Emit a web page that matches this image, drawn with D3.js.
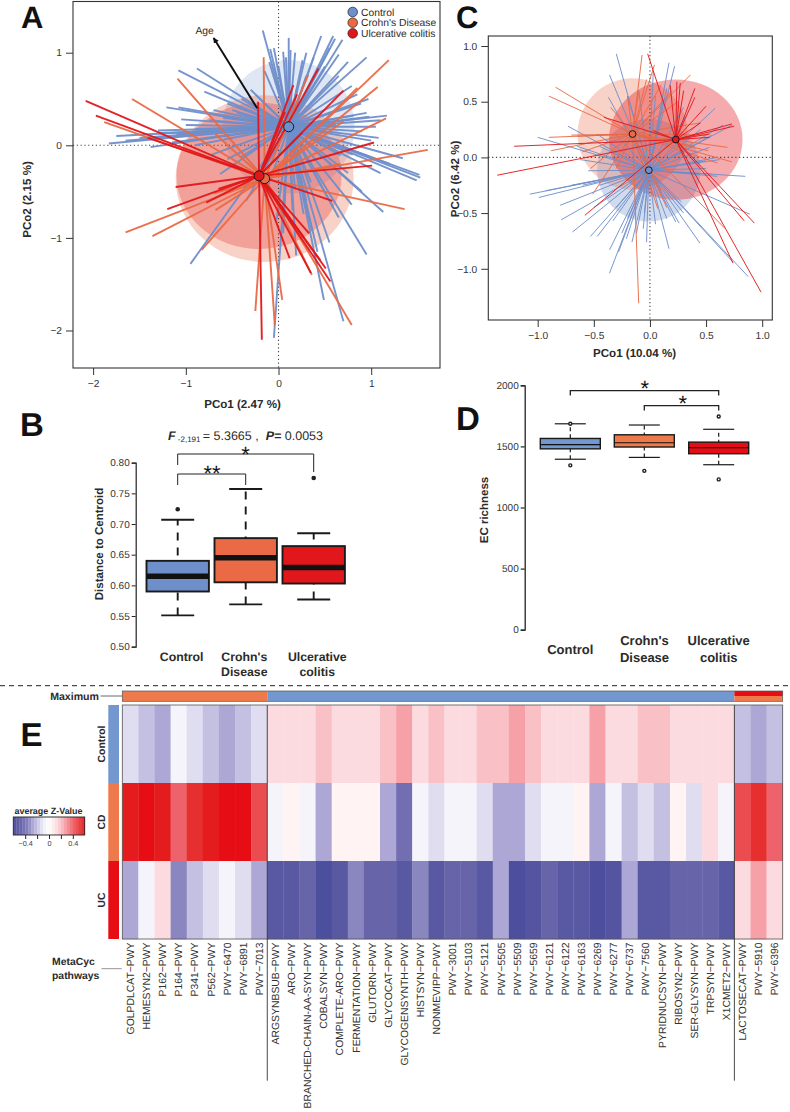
<!DOCTYPE html>
<html><head><meta charset="utf-8">
<script src="https://cdnjs.cloudflare.com/ajax/libs/d3/7.8.5/d3.min.js"></script>
<style>html,body{margin:0;padding:0;background:#fff}svg{display:block;text-rendering:geometricPrecision}text{font-family:"Liberation Sans",Arial,sans-serif;fill:#2b2b2b}</style>
</head><body><svg id="c" width="790" height="1112"></svg>
<script>
const colBlue="#6f8fcb", colOrange="#ea6a45", colRed="#e2171b";
const sideCols=["#7397cf","#ee7a4c","#e60e14"];
// Panel A (PCo1, PCo2)
const aCentroids=[[0.11,0.20],[-0.15,-0.36],[-0.21,-0.33]];
const aRadii=[[0.71,0.72],[0.96,0.90],[0.89,0.79]];
const aControl=[[-0.17,1.24],[-0.09,1.04],[-0.05,1.05],[0.05,1.01],[0.11,1.16],[0.13,1.03],[0.26,0.92],[0.46,1.18],[0.59,1.18],[0.61,1.15],[0.69,1.14],[0.95,0.95],[0.41,0.70],[0.79,0.64],[0.97,0.50],[0.89,0.45],[1.17,0.32],[1.05,0.20],[0.81,0.32],[-1.08,0.81],[-0.88,0.83],[-0.80,0.58],[-1.21,0.41],[-1.08,0.41],[-1.05,0.28],[-1.75,0.10],[-1.83,0.02],[-1.38,-0.02],[-1.65,0.05],[1.08,0.08],[1.34,-0.14],[1.52,-0.32],[1.53,-0.35],[1.49,-0.38],[1.13,-0.72],[0.95,-1.18],[0.79,-0.64],[0.49,-1.67],[0.70,-1.90],[-0.05,-2.08],[0.19,-1.19],[-0.95,-1.28],[-0.63,-0.31],[0.59,-0.67],[0.36,-0.92],[0.27,-0.74],[0.05,-0.95],[-0.41,-0.13],[0.67,-0.11],[-0.36,0.18],[-0.50,0.38],[0.30,0.75],[0.50,0.85],[0.20,0.62],[0.35,-0.40],[-0.25,0.55],[0.62,0.22],[0.98,0.31],[-1.30,0.16],[-1.10,0.12],[0.75,-0.30],[0.18,-0.48],[-1.0,0.22],[-0.9,0.18],[-0.75,0.27],[-0.6,0.3],[-0.45,0.35],[-0.7,0.38],[-0.55,0.45],[-0.4,0.5],[-0.3,0.6],[-0.15,0.8],[-0.1,0.9],[0.0,0.85],[0.08,0.95],[0.18,1.0],[0.3,1.0],[0.38,0.95],[0.55,1.05],[0.65,0.98],[0.75,0.9],[0.65,0.75],[0.85,0.55],[0.95,0.35],[1.1,0.27],[0.9,0.15],[1.0,0.05],[0.8,-0.1],[1.2,-0.2],[1.1,-0.3],[0.9,-0.5],[0.65,-0.78],[0.55,-1.05],[0.42,-1.15],[0.3,-0.6],[0.15,-0.7],[-0.02,-0.8],[-0.15,-0.55],[-0.35,-0.6],[-0.55,-0.15],[-0.9,0.0],[-1.15,0.03],[-1.3,0.13],[-1.5,0.08],[-0.72,-0.1]];
const aCD=[[-1.09,0.72],[-1.58,0.50],[-1.88,0.25],[-1.65,-0.94],[-1.36,-0.98],[-0.68,-0.70],[-0.83,-1.13],[-0.25,-1.79],[-0.04,-1.94],[0.04,-1.67],[0.36,-1.40],[0.79,-1.94],[1.36,-0.69],[1.61,-0.05],[1.16,0.29],[1.07,0.63],[1.19,0.92],[0.32,0.76],[-0.16,0.95],[0.85,0.62],[0.67,-0.20],[-0.68,0.12],[0.70,0.26],[-0.70,-0.52]];
const aUC=[[-2.08,0.48],[-1.97,0.32],[-1.41,0.08],[-1.11,-0.45],[-0.65,-0.47],[-1.20,-0.69],[-0.18,-2.10],[0.12,-1.22],[0.35,-1.38],[0.51,-1.33],[0.56,-1.47],[0.45,-1.24],[0.58,-0.60],[1.01,-0.22],[1.03,0.03],[0.70,0.59],[0.43,0.83],[0.16,0.65],[-0.22,0.47],[0.27,-0.99],[0.07,0.36],[0.26,0.14],[-0.78,-0.62],[0.33,-0.95],[0.20,0.55]];
const aArrow=[[-0.23,0.40],[-0.70,1.16]];
const aXTicks=[-2,-1,0,1], aYTicks=[-2,-1,0,1];
// Panel C (PCo1, PCo2)
const cCentroids=[[-0.01,-0.115],[-0.155,0.21],[0.23,0.16]];
const cRadii=[[0.46,0.46],[0.49,0.50],[0.595,0.54]];
const cControl=[[-0.30,0.93],[-0.36,0.74],[-0.37,0.54],[-0.73,0.28],[-1.00,0.18],[0.17,0.85],[0.22,0.82],[0.03,0.77],[0.58,0.44],[0.73,0.29],[0.65,0.29],[0.53,0.09],[0.85,-0.17],[0.89,-0.51],[0.875,-1.07],[0.74,-0.94],[0.445,-0.77],[0.26,-0.59],[0.17,-0.82],[-0.03,-0.76],[-0.06,-0.64],[-0.16,-0.76],[-0.36,-1.04],[-0.36,-0.83],[-0.28,-0.85],[-0.53,-0.71],[-0.47,-0.71],[-0.69,-0.67],[-0.79,-0.56],[-0.80,-0.43],[-1.07,-0.33],[-0.99,-0.36],[-0.33,-0.57],[-0.25,-0.68],[-0.12,-0.68],[-0.62,-0.02],[0.50,-0.03],[0.60,0.00],[-0.93,-0.30],[0.23,-0.58],[-0.21,-0.73],[0.12,0.52],[0.33,0.38],[-0.47,0.21],[0.42,-0.15],[0.55,-0.15],[0.28,-0.40],[-0.45,-0.25],[-0.2,0.55],[-0.1,0.6],[0.05,0.55],[0.15,0.62],[0.3,0.45],[0.45,0.25],[0.55,0.2],[0.62,-0.02],[0.5,-0.1],[0.6,-0.17],[0.3,-0.5],[0.15,-0.55],[0.05,-0.6],[-0.05,-0.5],[-0.2,-0.55],[-0.3,-0.45],[-0.5,-0.45],[-0.6,-0.25],[-0.7,-0.25],[-0.55,-0.12],[-0.45,0.1],[-0.3,0.2],[-0.65,0.1]];
const cCD=[[-0.07,0.92],[0.04,0.83],[-0.84,0.63],[-0.90,0.55],[-0.90,0.18],[-0.88,0.06],[-0.53,-0.10],[-0.51,-0.33],[-0.10,-1.31],[0.07,-0.46],[0.67,-0.64],[0.73,-0.04],[0.69,0.09],[0.36,0.74],[0.45,0.31],[0.52,0.06],[-0.03,0.70],[-0.70,0.20],[0.15,-0.45],[0.25,0.50],[-0.65,0.19],[-0.6,0.05],[-0.2,0.55],[-0.1,0.6],[0.1,0.65],[0.2,0.6],[0.5,0.2],[0.4,0.1],[-0.3,-0.1],[-0.35,0.45],[0.6,-0.05],[0.1,-0.3]];
const cUC=[[-0.02,0.93],[0.03,0.24],[-1.36,-0.16],[-1.21,0.10],[-0.41,0.36],[-0.58,-0.52],[0.99,-1.21],[0.74,-0.95],[0.93,-0.59],[0.84,-0.57],[0.73,0.30],[0.75,0.28],[0.53,0.18],[0.50,0.46],[0.40,0.62],[0.27,0.67],[0.30,0.60],[0.24,0.68],[0.18,0.65],[0.53,0.21],[0.45,0.31],[0.40,0.54]];
const cTicks=[-1,-0.5,0,0.5,1];
// Panel B boxplots: whisker low, q1, median, q3, whisker high, outliers
const groups=["Control","Crohn's Disease","Ulcerative colitis"];
const bStats=[[0.551,0.590,0.615,0.640,0.707],[0.569,0.605,0.645,0.677,0.757],[0.577,0.603,0.629,0.664,0.685]];
const bOutliers=[[0.724],[],[0.775]];
const bTicks=[0.5,0.55,0.6,0.65,0.7,0.75,0.8];
// Panel D boxplots
const dStats=[[1395,1480,1515,1565,1685],[1410,1495,1530,1595,1675],[1350,1440,1490,1535,1640]];
const dOutliers=[[1685,1345],[1300],[1745,1230]];
const dTicks=[0,500,1000,1500,2000];
// Panel E heatmap
const pathways=["GOLPDLCAT−PWY","HEMESYN2−PWY","P162−PWY","P164−PWY","P341−PWY","P562−PWY","PWY−6470","PWY−6891","PWY−7013","ARGSYNBSUB−PWY","ARO−PWY","BRANCHED-CHAIN-AA-SYN−PWY","COBALSYN−PWY","COMPLETE-ARO−PWY","FERMENTATION−PWY","GLUTORN−PWY","GLYCOCAT−PWY","GLYCOGENSYNTH−PWY","HISTSYN−PWY","NONMEVIPP−PWY","PWY−3001","PWY−5103","PWY−5121","PWY−5505","PWY−5509","PWY−5659","PWY−6121","PWY−6122","PWY−6163","PWY−6269","PWY−6277","PWY−6737","PWY−7560","PYRIDNUCSYN−PWY","RIBOSYN2−PWY","SER-GLYSYN−PWY","TRPSYN−PWY","X1CMET2−PWY","LACTOSECAT−PWY","PWY−5910","PWY−6396"];
const heatRows=["Control","CD","UC"];
const zControl=[-0.1,-0.15,-0.2,-0.05,-0.1,-0.15,-0.2,-0.15,-0.1,0.1,0.1,0.1,0.15,0.1,0.1,0.1,0.15,0.2,0.1,0.15,0.1,0.1,0.15,0.15,0.2,0.15,0.1,0.1,0.1,0.2,0.1,0.1,0.15,0.15,0.1,0.1,0.1,0.1,-0.15,-0.2,-0.15];
const zCD=[0.47,0.5,0.47,0.3,0.42,0.47,0.5,0.5,0.35,-0.05,0.03,-0.05,-0.2,0.03,0.03,0.03,-0.2,-0.32,-0.05,-0.1,-0.05,-0.05,-0.1,-0.2,-0.2,-0.1,-0.05,-0.05,0.03,-0.2,-0.05,-0.15,-0.1,-0.15,0.03,-0.1,0.1,-0.05,0.35,0.42,0.3];
const zUC=[-0.2,-0.05,0.1,-0.25,-0.15,-0.1,-0.05,-0.1,-0.2,-0.4,-0.4,-0.35,-0.45,-0.4,-0.25,-0.35,-0.35,-0.4,-0.25,-0.4,-0.35,-0.35,-0.4,-0.2,-0.45,-0.42,-0.35,-0.4,-0.4,-0.45,-0.42,-0.2,-0.4,-0.4,-0.35,-0.35,-0.35,-0.4,0.1,0.2,0.1];
const maxCounts=[9,29,3];
const zStops=[-0.6,-0.45,-0.4,-0.35,-0.25,-0.2,-0.15,-0.1,-0.05,0,0.03,0.1,0.15,0.2,0.3,0.35,0.42,0.47,0.5,0.6];
const zCols=["#3c3f92","#4c4f9d","#5958a2","#6864aa","#8a86c0","#aca7d4","#c3c0e1","#dfddef","#f5f4fb","#ffffff","#fff4f3","#fcdbe0","#f9c0c5","#f6a1a8","#ee636b","#ea4c4f","#e62f2f","#e41c1e","#e60e14","#d8181c"];
const legendTicks=[-0.4,-0.2,0,0.2,0.4];

const svg=d3.select("#c");
const groupCols=[colBlue,colOrange,colRed];

function star(box,xd,yd,xt,yt,cents,radii,sets,lw,opac,diskOp,fmt){
  const x=d3.scaleLinear().domain(xd).range([box.x0,box.x1]);
  const y=d3.scaleLinear().domain(yd).range([box.y1,box.y0]);
  const g=svg.append("g");
  cents.forEach((c,i)=>{
    g.append("ellipse").attr("cx",x(c[0])).attr("cy",y(c[1]))
     .attr("rx",x(radii[i][0])-x(0)).attr("ry",y(0)-y(radii[i][1]))
     .attr("fill",groupCols[i]).attr("opacity",diskOp[i]);
  });
  const dot={stroke:"#444","stroke-width":1.1,"stroke-dasharray":"1.2 2.6"};
  const l1=g.append("line").attr("x1",box.x0).attr("x2",box.x1).attr("y1",y(0)).attr("y2",y(0));
  const l2=g.append("line").attr("y1",box.y0).attr("y2",box.y1).attr("x1",x(0)).attr("x2",x(0));
  [l1,l2].forEach(l=>Object.entries(dot).forEach(([k,v])=>l.attr(k,v)));
  sets.forEach((pts,i)=>{
    g.append("g").selectAll("line").data(pts).join("line")
     .attr("x1",x(cents[i][0])).attr("y1",y(cents[i][1]))
     .attr("x2",d=>x(d[0])).attr("y2",d=>y(d[1]))
     .attr("stroke",groupCols[i]).attr("stroke-width",lw).attr("opacity",opac);
  });
  cents.forEach((c,i)=>{
    g.append("circle").attr("cx",x(c[0])).attr("cy",y(c[1])).attr("r",box.cr)
     .attr("fill",groupCols[i]).attr("stroke","#1a1a1a").attr("stroke-width",1);
  });
  g.append("rect").attr("x",box.x0).attr("y",box.y0).attr("width",box.x1-box.x0).attr("height",box.y1-box.y0)
   .attr("fill","none").attr("stroke","#333").attr("stroke-width",1.1);
  const ax=g.append("g").attr("transform",`translate(0,${box.y1})`).call(d3.axisBottom(x).tickValues(xt).tickSize(7).tickPadding(5).tickFormat(fmt));
  const ay=g.append("g").attr("transform",`translate(${box.x0},0)`).call(d3.axisLeft(y).tickValues(yt).tickSize(7).tickPadding(4).tickFormat(fmt));
  [ax,ay].forEach(a=>{a.select(".domain").remove();a.selectAll("text").attr("font-size",10.2).attr("font-family",'"Liberation Sans"').style("fill","#333");a.selectAll("line").attr("stroke","#333")});
  return {x,y,g};
}
const bold=(t,x,y,size,anchor="middle",rot)=>{
  const e=svg.append("text").text(t).attr("font-size",size).attr("font-weight","bold").attr("text-anchor",anchor);
  if(rot!==undefined)e.attr("transform",`translate(${x},${y}) rotate(${rot})`);else e.attr("x",x).attr("y",y);
  return e;
};
const minusFmt=d=>String(d).replace("-","−");
const fixFmt=d=>d3.format(".1f")(d).replace("-","−");

// A
const A=star({x0:73,x1:440,y0:1.5,y1:368,cr:5},[-2.217,1.742],[-2.405,1.553],aXTicks,aYTicks,aCentroids,aRadii,[aControl,aCD,aUC],1.9,0.95,[0.22,0.3,0.26],minusFmt);
svg.append("defs").append("marker").attr("id","ah").attr("viewBox","0 0 10 10").attr("refX",9).attr("refY",5).attr("markerWidth",3).attr("markerHeight",3).attr("orient","auto").append("path").attr("d","M0,0L10,5L0,10Z").attr("fill","#111");
A.g.append("line").attr("x1",A.x(aArrow[0][0])).attr("y1",A.y(aArrow[0][1])).attr("x2",A.x(aArrow[1][0])).attr("y2",A.y(aArrow[1][1])).attr("stroke","#111").attr("stroke-width",1.9).attr("marker-end","url(#ah)");
svg.append("text").text("Age").attr("x",A.x(aArrow[1][0])-9).attr("y",A.y(aArrow[1][1])-3.5).attr("text-anchor","middle").attr("font-size",10.3);
const legNames=["Control","Crohn's Disease","Ulcerative colitis"];
legNames.forEach((n,i)=>{
  svg.append("circle").attr("cx",352.7).attr("cy",12+i*10.7).attr("r",4.8).attr("fill",groupCols[i]).attr("stroke","#222").attr("stroke-width",.7);
  svg.append("text").text(n).attr("x",361).attr("y",15.7+i*10.7).attr("font-size",10.3);
});
bold("PCo1 (2.47 %)",242.5,408,11.6);
bold("PCo2 (2.15 %)",30.5,199.5,11.6,"middle",-90);

// C
star({x0:488.3,x1:772.3,y0:36,y1:320,cr:3.4},[-1.44,1.09],[-1.46,1.09],cTicks,cTicks,cCentroids,cRadii,[cControl,cCD,cUC],1,0.92,[0.32,0.3,0.36],fixFmt);
bold("PCo1 (10.04 %)",634.5,357,11.6);
bold("PCo2 (6.42 %)",459,179,11.6,"middle",-90);

// boxplots
function boxes(stats,outl,cx,hw,capHw,yS,fills,boxW,medW,capW,ptR,filled,dash){
  stats.forEach((s,i)=>{
    const g=svg.append("g"), c=cx[i];
    g.append("line").attr("x1",c).attr("x2",c).attr("y1",yS(s[0])).attr("y2",yS(s[4])).attr("stroke","#1a1a1a").attr("stroke-width",capW).attr("stroke-dasharray",dash);
    [s[0],s[4]].forEach(v=>g.append("line").attr("x1",c-capHw).attr("x2",c+capHw).attr("y1",yS(v)).attr("y2",yS(v)).attr("stroke","#1a1a1a").attr("stroke-width",capW));
    g.append("rect").attr("x",c-hw).attr("width",2*hw).attr("y",yS(s[3])).attr("height",yS(s[1])-yS(s[3])).attr("fill",fills[i]).attr("stroke","#1a1a1a").attr("stroke-width",boxW);
    g.append("line").attr("x1",c-hw).attr("x2",c+hw).attr("y1",yS(s[2])).attr("y2",yS(s[2])).attr("stroke","#111").attr("stroke-width",medW);
    outl[i].forEach(v=>g.append("circle").attr("cx",c).attr("cy",yS(v)).attr("r",ptR).attr("fill",filled?"#222":"#fff").attr("stroke","#222").attr("stroke-width",filled?0:1.4));
  });
}
function bracket(x0,x1,yTop,yL,yR,sw){
  svg.append("path").attr("d",`M${x0},${yL}V${yTop}H${x1}V${yR}`).attr("fill","none").attr("stroke","#222").attr("stroke-width",sw);
}
function star2(t,x,y,size){svg.append("text").text(t).attr("x",x).attr("y",y).attr("text-anchor","middle").attr("font-size",size).style("fill","#111");}

// B
const bY=d3.scaleLinear().domain([0.5,0.8]).range([646.7,462.7]);
const bAx=svg.append("g").attr("transform","translate(135.7,0)").call(d3.axisLeft(bY).tickValues(bTicks).tickSize(4).tickPadding(2).tickFormat(d3.format(".2f")));
bAx.selectAll("text").attr("font-size",10).attr("font-family",'"Liberation Sans"').style("fill","#333");
bAx.selectAll("line").attr("stroke","#222");
bAx.select(".domain").attr("stroke","#222").attr("stroke-width",1.2);
boxes(bStats,bOutliers,[177.7,245.7,313.7],31.2,16.5,bY,[colBlue,colOrange,colRed],1.9,5.5,1.9,2.3,true,"8 7");
bracket(177.7,245.7,474,485,485,1);
bracket(177.7,313.7,454,465,472,1);
star2("**",212,481.3,22);
star2("*",245.5,462.3,22);
bold("Distance to Centroid",102.7,544,11.5,"middle",-90);
const fT=svg.append("text").attr("x",245.5).attr("y",440).attr("text-anchor","middle").attr("font-size",12.5);
fT.append("tspan").text("F").attr("font-weight","bold").attr("font-style","italic");
fT.append("tspan").text(" -2,191 ").attr("font-size",8).attr("dy",1.5);
fT.append("tspan").text("= 5.3665 ,\u00a0\u00a0").attr("dy",-1.5);
fT.append("tspan").text("P=").attr("font-weight","bold").attr("font-style","italic");
fT.append("tspan").text(" 0.0053");
bold("Control",181.7,660.5,12.3);
bold("Crohn's",244.3,660.5,12.3);bold("Disease",244.3,675.7,12.3);
bold("Ulcerative",317.3,660.5,12.3);bold("colitis",317.3,675.7,12.3);

// D
const dY=d3.scaleLinear().domain([0,2000]).range([629.7,385.3]);
const dAx=svg.append("g").attr("transform","translate(524.7,0)").call(d3.axisLeft(dY).tickValues(dTicks).tickSize(4).tickPadding(2));
dAx.selectAll("text").attr("font-size",10).attr("font-family",'"Liberation Sans"').style("fill","#333").text(d=>d);
dAx.selectAll("line").attr("stroke","#222").attr("stroke-width",1.2);
dAx.select(".domain").attr("stroke","#222").attr("stroke-width",1.3);
boxes(dStats,dOutliers,[570.3,644.3,718.7],30,15.5,dY,sideCols,1.4,1.2,1.2,1.5,false,"4 3");
bracket(570.3,718.7,390.7,395.5,395.5,1.3);
bracket(644.3,718.7,405.7,410.5,410.5,1.3);
star2("*",644.7,396.3,22);
star2("*",682.7,411.3,22);
bold("EC richness",487.7,510,11.5,"middle",-90);
bold("Control",570.3,653.7,13);
bold("Crohn's",644.5,645,13);bold("Disease",644.5,661.5,13);
bold("Ulcerative",718.7,645,13);bold("colitis",718.7,661.5,13);

// divider
svg.append("line").attr("x1",0).attr("x2",790).attr("y1",685.7).attr("y2",685.7).attr("stroke","#222").attr("stroke-width",1).attr("stroke-dasharray","5 4");

// E
const color=d3.scaleLinear().domain(zStops).range(zCols);
const hx=d3.scaleBand().domain(pathways).range([122.3,782.7]);
const hy=d3.scaleBand().domain(heatRows).range([705,939]);
const zRows=[zControl,zCD,zUC];
const hg=svg.append("g");
heatRows.forEach((r,ri)=>{
  hg.append("g").selectAll("rect").data(zRows[ri]).join("rect")
   .attr("x",(d,i)=>hx(pathways[i])).attr("width",hx.bandwidth()+.3)
   .attr("y",hy(r)).attr("height",hy.bandwidth()+.3).attr("fill",d=>color(d));
  hg.append("rect").attr("x",108.3).attr("width",10.7).attr("y",hy(r)).attr("height",hy.bandwidth()).attr("fill",sideCols[ri]);
  bold(r,105,hy(r)+hy.bandwidth()/2,10.4,"middle",-90);
});
hg.append("rect").attr("x",122.3).attr("y",705).attr("width",660.4).attr("height",234).attr("fill","none").attr("stroke","#555").attr("stroke-width",.8);
// maximum bar
let start=0;
maxCounts.forEach((n,i)=>{
  const x0=hx(pathways[start]),w=hx.bandwidth()*n;
  if(i<2){hg.append("rect").attr("x",x0).attr("y",691).attr("width",w).attr("height",10.3).attr("fill",sideCols[i==0?1:0]);}
  else{hg.append("rect").attr("x",x0).attr("y",691).attr("width",w).attr("height",5).attr("fill",sideCols[2]);
       hg.append("rect").attr("x",x0).attr("y",696).attr("width",w).attr("height",5.3).attr("fill",sideCols[1]);}
  start+=n;
});
hg.append("rect").attr("x",122.3).attr("y",691).attr("width",660.4).attr("height",10.3).attr("fill","none").attr("stroke","#555").attr("stroke-width",.7);
[9,38].forEach(k=>hg.append("line").attr("x1",hx(pathways[k])).attr("x2",hx(pathways[k])).attr("y1",705).attr("y2",1080.7).attr("stroke","#333").attr("stroke-width",.9));
hg.append("g").selectAll("text").data(pathways).join("text").text(d=>d)
  .attr("text-anchor","end").attr("font-size",10.4).style("fill","#333")
  .attr("transform",d=>`translate(${hx(d)+hx.bandwidth()/2+3.7},942.5) rotate(-90)`);
bold("Maximum",99,700,10.6,"end");
svg.append("line").attr("x1",100.5).attr("x2",122).attr("y1",696).attr("y2",696).attr("stroke","#444").attr("stroke-width",.8);
bold("MetaCyc",52,965,10.4,"start");bold("pathways",52,979,10.4,"start");
svg.append("line").attr("x1",101.5).attr("x2",121.7).attr("y1",968.7).attr("y2",968.7).attr("stroke","#777").attr("stroke-width",.8);

// colour legend
const lx=d3.scaleLinear().domain([-0.6,0.6]).range([13.3,84.7]);
const lSteps=d3.range(-0.6,0.6001,0.05);
svg.append("g").selectAll("rect").data(lSteps.slice(0,-1)).join("rect")
  .attr("x",d=>lx(d)).attr("width",lx(0.05)-lx(0)+.3).attr("y",817).attr("height",18).attr("fill",d=>color((d+0.025)*0.72));
svg.append("rect").attr("x",13.3).attr("y",817).attr("width",71.4).attr("height",18).attr("fill","none").attr("stroke","#222").attr("stroke-width",.9);
const lAx=svg.append("g").attr("transform","translate(0,835)").call(d3.axisBottom(lx).tickValues(legendTicks).tickSize(4).tickPadding(2).tickFormat(d=>[-0.4,0,0.4].includes(d)?String(d).replace("-","−"):""));
lAx.select(".domain").remove();
lAx.selectAll("text").attr("font-size",7.3).attr("font-family",'"Liberation Sans"').style("fill","#444");
lAx.selectAll("line").attr("stroke","#222");
bold("average Z-Value",48.5,814,8.95);

// panel letters
[["A",21,28,31],["B",20,435.5,33],["C",456,28,31],["D",456,429.5,33],["E",20.5,746,33]].forEach(d=>{
  svg.append("text").text(d[0]).attr("x",d[1]).attr("y",d[2]).attr("font-size",d[3]).attr("font-weight","bold").style("fill","#111");
});
</script></body></html>
